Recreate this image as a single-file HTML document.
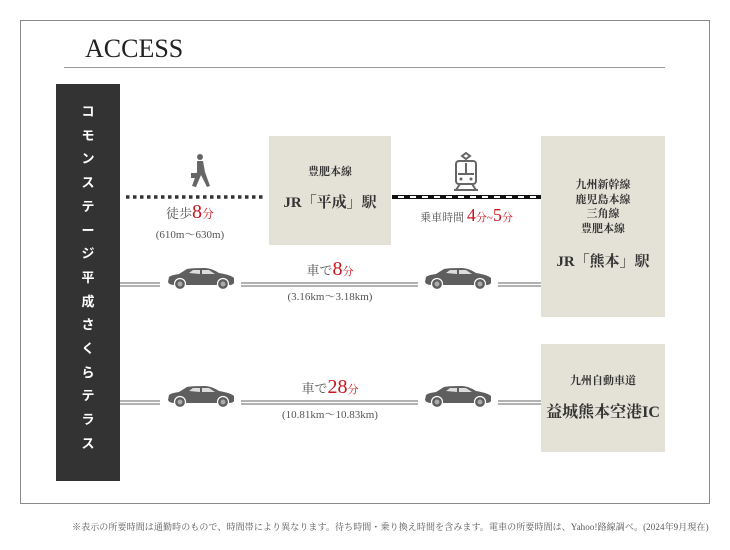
<!DOCTYPE html>
<html><head><meta charset="utf-8"><style>
body{margin:0;width:730px;height:550px;background:#fff;position:relative;overflow:hidden;font-family:"Liberation Serif","Noto Serif CJK SC",serif;color:#333}
.a{position:absolute}
.box{position:absolute;background:#e4e1d6}
.c{text-align:center;white-space:nowrap}
.red{color:#c8161d}
.g{color:#555}
</style></head><body>
<div class="a" style="left:20px;top:20px;width:690px;height:484px;border:1.5px solid #8a8a8a;box-sizing:border-box"></div>
<div class="a" style="left:85px;top:34px;font-size:26px;color:#222;letter-spacing:0px">ACCESS</div>
<div class="a" style="left:64px;top:67px;width:601px;height:1px;background:#999"></div>
<div class="a" style="left:56px;top:84px;width:64px;height:397px;background:#333"></div>
<div class="a c" style="left:56px;top:99px;width:64px;color:#fff;font-family:'Noto Sans CJK JP',sans-serif;font-weight:bold;font-size:13px;line-height:23.7px">コ<br>モ<br>ン<br>ス<br>テ<br>ー<br>ジ<br>平<br>成<br>さ<br>く<br>ら<br>テ<br>ラ<br>ス</div>

<div class="box" style="left:269px;top:136px;width:122px;height:109px"></div>
<div class="a c" style="left:269px;top:163px;width:122px;font-size:11px;font-weight:bold">豊肥本線</div>
<div class="a c" style="left:269px;top:191px;width:122px;font-size:15px;font-weight:bold">JR「平成」駅</div>

<div class="box" style="left:541px;top:136px;width:124px;height:181px"></div>
<div class="a c" style="left:541px;top:178px;width:124px;font-size:11px;font-weight:bold;line-height:14.5px">九州新幹線<br>鹿児島本線<br>三角線<br>豊肥本線</div>
<div class="a c" style="left:541px;top:250px;width:124px;font-size:15px;font-weight:bold">JR「熊本」駅</div>

<div class="box" style="left:541px;top:344px;width:124px;height:108px"></div>
<div class="a c" style="left:541px;top:372px;width:124px;font-size:11px;font-weight:bold">九州自動車道</div>
<div class="a c" style="left:541px;top:399px;width:124px;font-size:16px;font-weight:bold">益城熊本空港IC</div>

<svg class="a" style="left:0;top:0" width="730" height="550">
<defs>
<g id="car"><path d="M1 14 L2 9 Q4 7 12 6 L20 1 Q24 0 38 0 Q44 0 52 5 Q64 7 67 10 L67 15 Q66 17 62 17 L8 17 Q2 17 1 14Z" fill="#5e5e5e"/>
<path d="M22 5 L26 2 L33 2 L33 6Z M35 2 L42 2 L48 6 L35 6Z" fill="#ddd"/>
<circle cx="13" cy="16" r="5.5" fill="#5e5e5e" stroke="#fff" stroke-width="1.2"/><circle cx="13" cy="16" r="2.5" fill="#aaa"/>
<circle cx="56" cy="16" r="5.5" fill="#5e5e5e" stroke="#fff" stroke-width="1.2"/><circle cx="56" cy="16" r="2.5" fill="#aaa"/></g>
</defs>
<line x1="126" y1="197" x2="266" y2="197" stroke="#333" stroke-width="3.5" stroke-dasharray="3.5 3.5"/>
<line x1="392" y1="197" x2="541" y2="197" stroke="#111" stroke-width="4"/>
<line x1="398" y1="197" x2="541" y2="197" stroke="#fff" stroke-width="2" stroke-dasharray="6 6"/>
<g fill="#666"><circle cx="200" cy="157" r="3"/><path d="M197 161 L203 161 L205 172 L210 186 L207 187 L201 175 L196 187 L192 186 L197 172Z"/><rect x="191" y="173" width="6" height="5"/></g>
<g fill="none" stroke="#666" stroke-width="2"><path d="M466 153 L470 156 L466 159 L462 156Z"/><rect x="456" y="161" width="20" height="23" rx="3"/><line x1="458" y1="174" x2="474" y2="174"/><line x1="466" y1="163" x2="466" y2="174"/><path d="M460 184 L456 190 M472 184 L476 190 M454 190 L478 190"/></g>
<g fill="#666"><circle cx="461" cy="179" r="1.5"/><circle cx="471" cy="179" r="1.5"/></g>
<g stroke="#666" stroke-width="1">
<path d="M120 283H160M120 286H160M241 283H418M241 286H418M498 283H541M498 286H541"/>
<path d="M120 401H160M120 404H160M241 401H418M241 404H418M498 401H541M498 404H541"/>
</g>
<use href="#car" x="167" y="268"/><use href="#car" x="424" y="268"/>
<use href="#car" x="167" y="386"/><use href="#car" x="424" y="386"/>
</svg>

<div class="a c g" style="left:140px;top:201px;width:100px;font-size:13px">徒歩<span class="red" style="font-size:20px">8</span><span class="red" style="font-size:12px">分</span></div>
<div class="a c g" style="left:140px;top:226px;width:100px;font-size:11px">(610m〜630m)</div>
<div class="a c g" style="left:392px;top:205px;width:149px;font-size:11px">乗車時間 <span class="red" style="font-size:18px">4</span><span class="red" style="font-size:11px">分~</span><span class="red" style="font-size:18px">5</span><span class="red" style="font-size:11px">分</span></div>
<div class="a c g" style="left:280px;top:258px;width:100px;font-size:13px">車で<span class="red" style="font-size:20px">8</span><span class="red" style="font-size:11px">分</span></div>
<div class="a c g" style="left:260px;top:288px;width:140px;font-size:11px">(3.16km〜3.18km)</div>
<div class="a c g" style="left:280px;top:376px;width:100px;font-size:13px">車で<span class="red" style="font-size:20px">28</span><span class="red" style="font-size:11px">分</span></div>
<div class="a c g" style="left:250px;top:406px;width:160px;font-size:11px">(10.81km〜10.83km)</div>
<div class="a" style="left:72px;top:520px;font-size:9px;color:#555;white-space:nowrap;letter-spacing:0.1px">※表示の所要時間は通勤時のもので、時間帯により異なります。待ち時間・乗り換え時間を含みます。電車の所要時間は、Yahoo!路線調べ。(2024年9月現在)</div>
</body></html>
